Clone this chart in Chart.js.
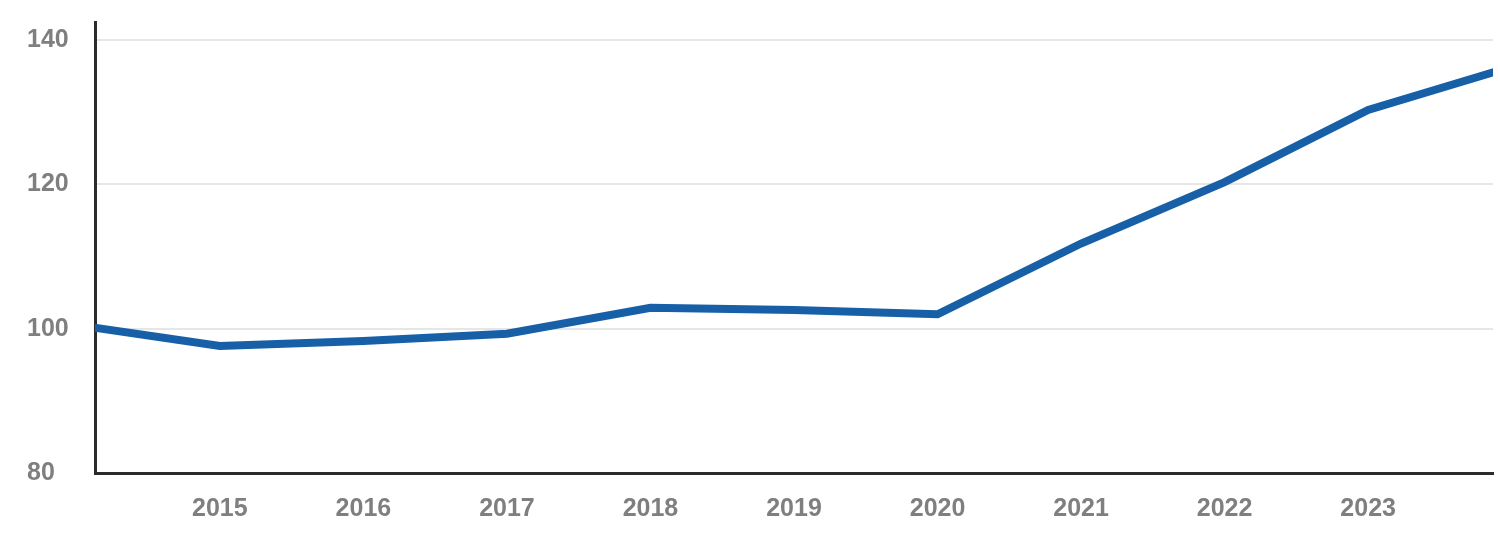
<!DOCTYPE html>
<html>
<head>
<style>
  html, body { margin: 0; padding: 0; background: #fff; }
  #wrap { width: 1500px; height: 545px; }
</style>
</head>
<body>
<div id="wrap"><canvas id="myChart"></canvas></div>

<script src="https://cdn.jsdelivr.net/npm/chart.js"></script>
<script>
// data (index values per year)
let years = [2014, 2015, 2016, 2017, 2018, 2019, 2020, 2021, 2022, 2023, 2024];
let values = [100.5, 97.6, 98.3, 99.3, 102.9, 102.6, 102.0, 111.8, 120.3, 130.3, 136.3];
let yearLabels = [2015, 2016, 2017, 2018, 2019, 2020, 2021, 2022, 2023];
let yTicks = [80, 100, 120, 140];

let points = years.map((y, i) => ({ x: y, y: values[i] }));

let tickFont = { family: "'Liberation Sans', Arial, sans-serif", size: 25, weight: 'bold' };

let ctx = document.getElementById('myChart').getContext('2d');
let chart = new Chart(ctx, {
    type: 'line',
    data: {
        datasets: [{
            data: points,
            borderColor: '#1760a8',
            borderWidth: 8,
            pointRadius: 0,
            tension: 0,
            fill: false
        }]
    },
    options: {
        responsive: true,
        maintainAspectRatio: false,
        animation: false,
        layout: { padding: { top: 22, right: 7, left: 27, bottom: 0 } },
        plugins: {
            legend: { display: false },
            tooltip: { enabled: false }
        },
        scales: {
            x: {
                type: 'linear',
                min: 2014.13,
                max: 2023.87,
                grid: { display: false, drawTicks: false },
                border: { display: true, color: '#2b2b2b', width: 3 },
                afterBuildTicks: s => { s.ticks = yearLabels.map(v => ({ value: v })); },
                afterFit: s => { s.height = 72; },
                ticks: {
                    padding: 21,
                    color: '#7f7f7f',
                    font: tickFont,
                    maxRotation: 0,
                    autoSkip: false,
                    callback: v => String(v)
                }
            },
            y: {
                min: 80,
                max: 142.5,
                grid: { color: '#e6e6e6', lineWidth: 2, drawTicks: false },
                border: { display: true, color: '#2b2b2b', width: 3 },
                afterBuildTicks: s => { s.ticks = yTicks.map(v => ({ value: v })); },
                afterFit: s => { s.width = 68; },
                ticks: {
                    crossAlign: 'far',
                    padding: 0,
                    color: '#7f7f7f',
                    font: tickFont,
                    callback: v => String(v)
                }
            }
        }
    }
});
</script>
</body>
</html>
